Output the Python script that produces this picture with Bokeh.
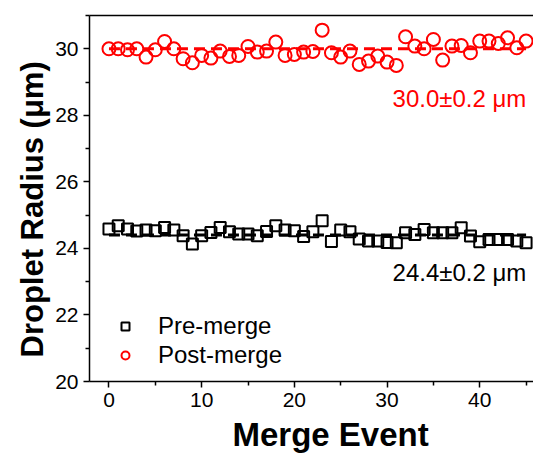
from bokeh.plotting import figure
from bokeh.models import Range1d, Label, Legend, LegendItem, FixedTicker, LinearAxis, Title
from bokeh.embed import file_html
from bokeh.resources import INLINE

events = list(range(46))
pre_merge = [24.58, 24.68, 24.58, 24.52, 24.55, 24.53, 24.63, 24.55, 24.38, 24.13,
             24.38, 24.48, 24.63, 24.5, 24.43, 24.43, 24.38, 24.51, 24.68, 24.55,
             24.53, 24.36, 24.5, 24.83, 24.21, 24.55, 24.5, 24.28, 24.22, 24.22,
             24.18, 24.17, 24.47, 24.42, 24.57, 24.47, 24.47, 24.47, 24.62, 24.37,
             24.2, 24.27, 24.27, 24.27, 24.22, 24.17]
post_merge = [30.0, 30.0, 29.97, 30.0, 29.75, 29.97, 30.22, 30.0, 29.7, 29.58,
              29.8, 29.72, 29.93, 29.77, 29.8, 30.07, 29.9, 29.93, 30.2, 29.8,
              29.83, 29.9, 29.92, 30.56, 29.88, 29.75, 29.93, 29.53, 29.63, 29.78,
              29.6, 29.5, 30.36, 30.08, 30.0, 30.28, 29.66, 30.08, 30.1, 29.88,
              30.23, 30.23, 30.16, 30.33, 30.03, 30.23]
pre_mean = 24.4
post_mean = 30.0
pre_text = "24.4±0.2 μm"
post_text = "30.0±0.2 μm"
x_label = "Merge Event"
y_label = "Droplet Radius (μm)"
x_ticks = [0, 10, 20, 30, 40]
y_ticks = [20, 22, 24, 26, 28, 30]

FONT = "Liberation Sans"

p = figure(width=533, height=456, output_backend="svg", toolbar_location=None,
           x_range=Range1d(-2.1, 45.8), y_range=Range1d(20, 31),
           min_border_left=89, min_border_top=15, min_border_right=0, min_border_bottom=75)
p.grid.visible = False
p.outline_line_color = None
p.background_fill_color = "white"
p.border_fill_color = "white"

xax = p.below[0]
yax = p.left[0]

top_axis = LinearAxis(major_tick_out=0, major_tick_in=0, minor_tick_out=0, minor_tick_in=0,
                      major_label_standoff=0, axis_line_width=1.5)
top_axis.ticker = FixedTicker(ticks=[])
p.add_layout(top_axis, "above")

for ax in (xax, yax):
    ax.axis_line_width = 1.5
    ax.major_tick_line_width = 1.5
    ax.minor_tick_line_width = 1.5
    ax.major_tick_out = 6
    ax.major_tick_in = 0
    ax.minor_tick_out = 4
    ax.minor_tick_in = 0
    ax.major_label_text_font = FONT
    ax.major_label_text_font_size = "21px"
    ax.major_label_text_color = "black"
    ax.major_label_standoff = 5

xax.ticker = FixedTicker(ticks=x_ticks, minor_ticks=[5, 15, 25, 35, 45])
yax.ticker = FixedTicker(ticks=y_ticks, minor_ticks=[21, 23, 25, 27, 29, 31])

p.add_layout(Title(text=x_label, align="left", offset=143, standoff=8,
                   text_font=FONT, text_font_style="bold", text_font_size="33px",
                   text_color="black"), "below")
p.add_layout(Title(text=y_label, align="left", offset=24, standoff=5,
                   text_font=FONT, text_font_style="bold", text_font_size="31px",
                   text_color="black"), "left")

line_x = [events[0], events[-1]]
p.line(line_x, [post_mean, post_mean], line_color="red", line_width=3, line_dash="11 6")
p.line(line_x, [pre_mean, pre_mean], line_color="black", line_width=3, line_dash="11 6")

r_pre = p.scatter(events, pre_merge, marker="square", size=11, fill_color=None,
                  line_color="black", line_width=2)
r_post = p.scatter(events, post_merge, marker="circle", size=13, fill_color=None,
                   line_color="red", line_width=2)

p.add_layout(Label(x=30.6, y=28.5, text=post_text, text_color="red", text_font=FONT,
                   text_font_size="24px", text_baseline="middle"))
p.add_layout(Label(x=30.6, y=23.27, text=pre_text, text_color="black", text_font=FONT,
                   text_font_size="24px", text_baseline="middle"))

legend = Legend(items=[LegendItem(label="Pre-merge", renderers=[r_pre]),
                       LegendItem(label="Post-merge", renderers=[r_post])],
                location=(26, 12), padding=0, margin=0, spacing=1,
                glyph_width=20, glyph_height=22, label_standoff=23,
                label_text_font=FONT, label_text_font_size="24px",
                label_text_color="black",
                border_line_color=None, background_fill_alpha=0)
p.add_layout(legend)

open("out.html", "w").write(file_html(p, INLINE))
